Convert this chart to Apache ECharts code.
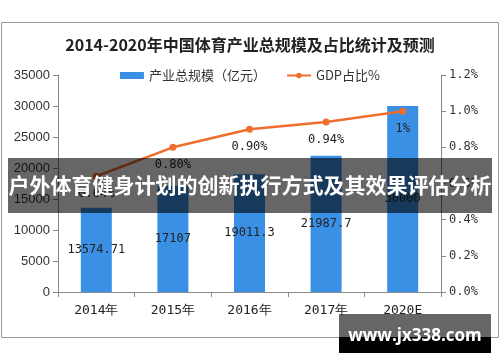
<!DOCTYPE html>
<html><head><meta charset="utf-8">
<script src="https://cdn.jsdelivr.net/npm/echarts@6/dist/echarts.min.js"></script>
<style>html,body{margin:0;padding:0;background:#fff}#c{width:500px;height:362px}</style>
</head><body><div id="c"></div>
<script>
const titleText = '2014-2020年中国体育产业总规模及占比统计及预测';
const categories = ['2014年', '2015年', '2016年', '2017年', '2020E'];
const scaleValues = [13574.71, 17107, 19011.3, 21987.7, 30000];
const scaleLabels = ['13574.71', '17107', '19011.3', '21987.7', '30000'];
const gdpShare = [0.64, 0.80, 0.90, 0.94, 1.0];
const gdpLabels = ['0.64%', '0.80%', '0.90%', '0.94%', '1%'];
const seriesNames = ['产业总规模（亿元）', 'GDP占比%'];
const bannerText = '户外体育健身计划的创新执行方式及其效果评估分析';
const siteText = 'www.jx338.com';

const chart = echarts.init(document.getElementById('c'));
const mono = 'DejaVu Sans Mono';
chart.setOption({
  animation: false,
  backgroundColor: '#fff',
  title: {
    text: titleText, left: 'center', top: 32,
    textStyle: {fontFamily: 'Noto Sans CJK SC', fontWeight: 'bold', fontSize: 16, color: '#222'}
  },
  legend: {
    top: 64, left: 'center', itemGap: 20, itemWidth: 24, itemHeight: 7,
    textStyle: {fontFamily: 'Noto Sans CJK SC', fontSize: 13, color: '#333'},
    data: [{name: seriesNames[0], icon: 'rect'}, {name: seriesNames[1]}]
  },
  grid: {left: 58, right: 59, top: 75, bottom: 70},
  xAxis: {
    type: 'category', data: categories,
    axisLine: {lineStyle: {color: '#888'}},
    axisTick: {show: true, alignWithLabel: false, length: 5, lineStyle: {color: '#888'}},
    axisLabel: {fontFamily: mono, fontSize: 13, color: '#222', margin: 12}
  },
  yAxis: [{
    type: 'value', min: 0, max: 35000, interval: 5000,
    splitLine: {show: false},
    axisLine: {show: true, lineStyle: {color: '#888'}},
    axisTick: {show: true, length: 5, lineStyle: {color: '#888'}},
    axisLabel: {fontFamily: 'Liberation Sans', fontSize: 13, color: '#333', margin: 8,
      formatter: v => String(v)}
  }, {
    type: 'value', min: 0, max: 1.2, interval: 0.2, position: 'right',
    splitLine: {show: false},
    axisLine: {show: true, lineStyle: {color: '#888'}},
    axisTick: {show: true, length: 5, lineStyle: {color: '#888'}},
    axisLabel: {fontFamily: mono, fontSize: 12, color: '#333', margin: 8,
      formatter: v => v.toFixed(1) + '%'}
  }],
  series: [{
    name: seriesNames[0], type: 'bar', data: scaleValues, barWidth: 31,
    itemStyle: {color: '#3a90e5'},
    label: {show: true, position: 'inside', fontFamily: mono, fontSize: 12, color: '#222',
      formatter: p => scaleLabels[p.dataIndex]}
  }, {
    name: seriesNames[1], type: 'line', yAxisIndex: 1, data: gdpShare,
    symbol: 'circle', symbolSize: 7,
    lineStyle: {color: '#ee6f2d', width: 2.5},
    itemStyle: {color: '#ee6f2d'},
    label: {show: true, position: 'bottom', distance: 8, fontFamily: mono, fontSize: 12, color: '#222',
      formatter: p => gdpLabels[p.dataIndex]}
  }],
  graphic: [
    {type: 'rect', z: 50, shape: {x: 1.5, y: 22.5, width: 497, height: 315}, style: {fill: 'none', stroke: '#999', lineWidth: 1}},
    {type: 'rect', z: 100, shape: {x: 8, y: 158, width: 484, height: 55}, style: {fill: 'rgba(0,0,0,0.6)'}},
    {type: 'text', z: 101, x: 250, y: 185, style: {text: bannerText, fill: '#fff', font: 'bold 21px "Noto Sans CJK SC"', textAlign: 'center', textVerticalAlign: 'middle'}},
    {type: 'rect', z: 100, shape: {x: 339, y: 314, width: 152, height: 23}, style: {fill: 'rgba(0,0,0,0.6)'}},
    {type: 'rect', z: 100, shape: {x: 339, y: 337, width: 152, height: 16}, style: {fill: '#000'}},
    {type: 'text', z: 101, x: 415, y: 336, style: {text: siteText, fill: '#fff', font: 'bold 17px "Open Sans"', textAlign: 'center', textVerticalAlign: 'middle'}}
  ]
});
</script></body></html>
